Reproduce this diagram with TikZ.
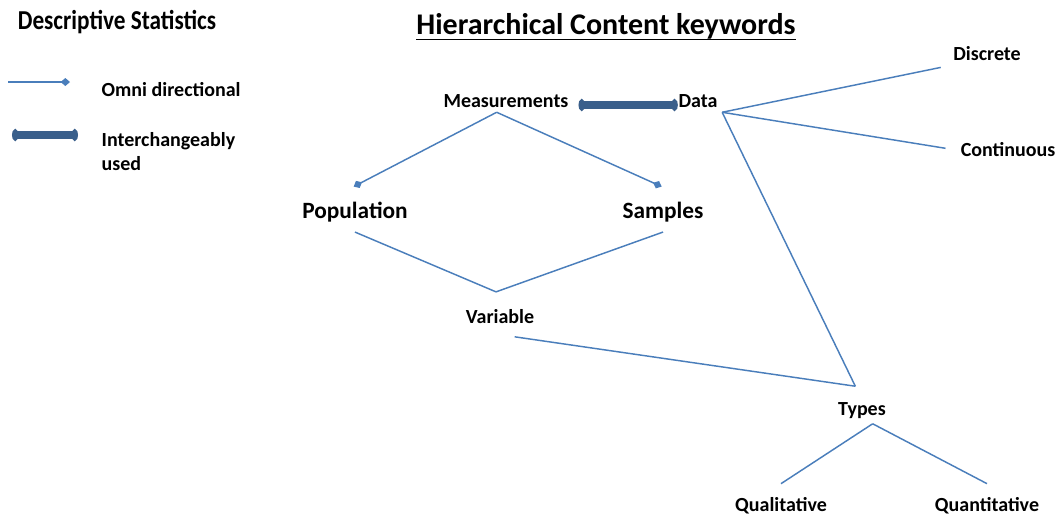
\documentclass[tikz,border=0pt]{standalone}
\usepackage{fontspec}
\setmainfont{Carlito}
\newfontfamily\narrowfont[FakeStretch=0.85]{Carlito}
\usetikzlibrary{arrows.meta}
\definecolor{linkblue}{HTML}{4A7EBB}
\definecolor{swapblue}{HTML}{3A5F8B}

\begin{document}
\begin{tikzpicture}[x=0.75pt,y=-0.75pt,
  every node/.style={font=\bfseries\fontsize{15}{18}\selectfont},
  big/.style={font=\bfseries\fontsize{17.5}{20}\selectfont},
  omni/.style={draw=linkblue,line width=1.1pt,-{Diamond[length=7pt,width=6pt]}},
  plain/.style={draw=linkblue,line width=1.1pt},
  swap/.style={draw=swapblue,line width=5.5pt,{Ellipse[length=5pt,width=8.5pt]}-{Ellipse[length=5pt,width=8.5pt]}}]
\useasboundingbox (0,0) rectangle (1060,521);
% headings
\node[font=\narrowfont\bfseries\fontsize{20.5}{24}\selectfont]
                      (desc)  at (117,22)  {Descriptive Statistics};
\node[inner sep=0pt,font=\bfseries\fontsize{22.5}{26}\selectfont]
                      (title) at (606,26)  {Hierarchical Content keywords};
\draw[line width=1.3pt] ([yshift=-4pt]title.base west) -- ([yshift=-4pt]title.base east);
% legend
\coordinate           (oa)    at (8,82);
\coordinate           (ob)    at (70,82);
\coordinate           (ia)    at (12,135);
\coordinate           (ib)    at (78,135);
\node[anchor=west]    (omnitext) at (97,90) {Omni directional};
\node[anchor=west,align=left] (intertext) at (97,152) {Interchangeably\\used};
\draw[omni]           (oa) -- (ob);
\draw[swap]           (ia) -- (ib);
% keywords
\node                 (meas)  at (506,101) {Measurements};
\node                 (data)  at (698,101) {Data};
\node[big]            (pop)   at (355,212) {Population};
\node[big]            (samp)  at (663,212) {Samples};
\node                 (var)   at (500,317) {Variable};
\node                 (types) at (862,411) {Types};
\node                 (qual)  at (781,506) {Qualitative};
\node                 (quant) at (987,506) {Quantitative};
\node                 (disc)  at (987,54)  {Discrete};
\node                 (cont)  at (1008,150) {Continuous};
% connectors
\draw[swap, shorten <=4pt, shorten >=-3pt] ([yshift=-3pt]meas.east) -- ([yshift=-3pt]data.west);
\draw[omni]                 ([xshift=-7pt]meas.south) -- ([xshift=-1pt,yshift=8pt]pop.north);
\draw[omni]                 ([xshift=-7pt]meas.south) -- ([xshift=-1pt,yshift=8pt]samp.north);
\draw[plain]                ([yshift=-4pt]pop.south) -- ([xshift=-3pt,yshift=10pt]var.north);
\draw[plain]                ([yshift=-4pt]samp.south) -- ([xshift=-3pt,yshift=10pt]var.north);
\draw[plain]                ([xshift=11pt,yshift=-6pt]var.south) -- ([xshift=-5pt,yshift=9pt]types.north);
\draw[plain]                (data.south east) -- ([xshift=-5pt,yshift=9pt]types.north);
\draw[plain, shorten >=6pt] (data.south east) -- (disc.south west);
\draw[plain, shorten >=8pt] (data.south east) -- (cont.west);
\draw[plain]                ([xshift=8pt]types.south) -- ([yshift=7pt]qual.north);
\draw[plain]                ([xshift=8pt]types.south) -- ([yshift=7pt]quant.north);
\end{tikzpicture}
\end{document}
